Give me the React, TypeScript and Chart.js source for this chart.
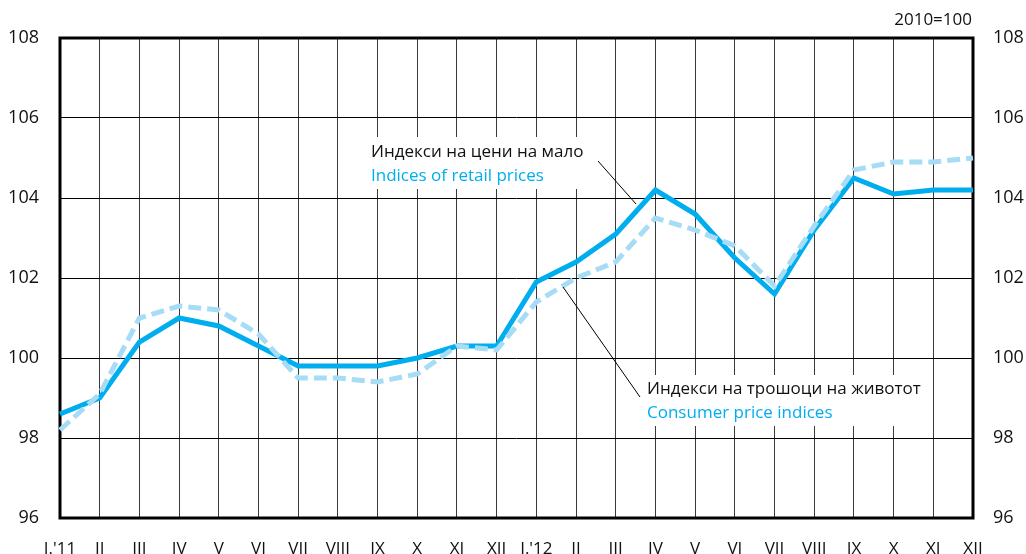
import React, { useEffect, useRef } from "react";
import { Chart, registerables } from "chart.js";

Chart.register(...registerables);

const categories = [
  "I.'11", "II", "III", "IV", "V", "VI", "VII", "VIII", "IX", "X", "XI", "XII",
  "I.'12", "II", "III", "IV", "V", "VI", "VII", "VIII", "IX", "X", "XI", "XII",
];

const retailPrices = [
  98.6, 99.0, 100.4, 101.0, 100.8, 100.3, 99.8, 99.8, 99.8, 100.0, 100.3, 100.3,
  101.9, 102.4, 103.1, 104.2, 103.6, 102.5, 101.6, 103.2, 104.5, 104.1, 104.2, 104.2,
];

const consumerPrices = [
  98.2, 99.1, 101.0, 101.3, 101.2, 100.6, 99.5, 99.5, 99.4, 99.6, 100.3, 100.2,
  101.4, 102.0, 102.4, 103.5, 103.2, 102.8, 101.8, 103.3, 104.7, 104.9, 104.9, 105.0,
];

const yMin = 96;
const yMax = 108;
const yStep = 2;

const retailLabelMk = "Индекси на цени на мало";
const retailLabelEn = "Indices of retail prices";
const cpiLabelMk = "Индекси на трошоци на животот";
const cpiLabelEn = "Consumer price indices";
const baseNote = "2010=100";

const FONT = "'Open Sans', 'Noto Sans', sans-serif";
const SOLID = "#00AEEF";
const LIGHT = "#A6DCF5";

const overlayPlugin = {
  id: "overlay",
  beforeDatasetsDraw(chart: any) {
    const { ctx, chartArea } = chart;
    ctx.save();
    ctx.strokeStyle = "#000";
    ctx.lineWidth = 3;
    ctx.strokeRect(
      chartArea.left,
      chartArea.top,
      chartArea.right - chartArea.left,
      chartArea.bottom - chartArea.top
    );
    ctx.restore();
  },
  afterDatasetsDraw(chart: any) {
    const { ctx, chartArea } = chart;
    ctx.save();
    // white boxes behind labels
    ctx.fillStyle = "#fff";
    ctx.fillRect(365, 137, 230, 52);
    ctx.fillRect(641, 375, 286, 51);

    ctx.font = `17px ${FONT}`;
    ctx.textBaseline = "middle";
    ctx.textAlign = "left";
    ctx.fillStyle = "#111";
    ctx.fillText(retailLabelMk, 371, 152);
    ctx.fillStyle = SOLID;
    ctx.fillText(retailLabelEn, 371, 176);
    ctx.fillStyle = "#111";
    ctx.fillText(cpiLabelMk, 647, 389);
    ctx.fillStyle = SOLID;
    ctx.fillText(cpiLabelEn, 647, 413);

    // leader lines
    ctx.strokeStyle = "#000";
    ctx.lineWidth = 1;
    ctx.beginPath();
    ctx.moveTo(598, 161);
    ctx.lineTo(636, 204);
    ctx.moveTo(563, 287);
    ctx.lineTo(640, 397);
    ctx.stroke();

    // base note
    ctx.fillStyle = "#111";
    ctx.textAlign = "right";
    ctx.font = `17px ${FONT}`;
    ctx.fillText(baseNote, chartArea.right - 1, 20);
    ctx.restore();
  },
};

export default function App() {
  const canvasRef = useRef<HTMLCanvasElement | null>(null);

  useEffect(() => {
    if (!canvasRef.current) return;
    const chart = new Chart(canvasRef.current, {
      type: "line",
      data: {
        labels: categories,
        datasets: [
          {
            label: retailLabelEn,
            data: retailPrices,
            borderColor: SOLID,
            borderWidth: 5,
            pointRadius: 0,
            tension: 0,
            fill: false,
            order: 2,
            yAxisID: "y",
          },
          {
            label: cpiLabelEn,
            data: consumerPrices,
            borderColor: LIGHT,
            borderWidth: 5,
            borderDash: [13, 6],
            pointRadius: 0,
            tension: 0,
            fill: false,
            order: 1,
            yAxisID: "y",
          },
        ],
      },
      options: {
        animation: false,
        responsive: false,
        maintainAspectRatio: false,
        layout: { padding: { top: 38, left: 0, right: 0, bottom: 0 } },
        plugins: {
          legend: { display: false },
          tooltip: { enabled: false },
          title: { display: false },
        },
        scales: {
          x: {
            type: "category",
            offset: false,
            grid: { color: "#3a3a3a", lineWidth: 1, drawTicks: false },
            border: { display: false },
            ticks: {
              autoSkip: false,
              maxRotation: 0,
              padding: 21,
              color: "#111",
              font: { family: FONT, size: 17 },
            },
            afterFit: (s: any) => {
              s.height = 36;
            },
          },
          y: {
            type: "linear",
            position: "left",
            min: yMin,
            max: yMax,
            grid: { color: "#000", lineWidth: 1, drawTicks: false },
            border: { display: false },
            ticks: {
              stepSize: yStep,
              padding: 21,
              color: "#111",
              font: { family: FONT, size: 18 },
            },
            afterFit: (s: any) => {
              s.width = 60;
            },
          },
          y2: {
            type: "linear",
            position: "right",
            min: yMin,
            max: yMax,
            grid: { display: false, drawTicks: false },
            border: { display: false },
            ticks: {
              stepSize: yStep,
              padding: 20,
              color: "#111",
              font: { family: FONT, size: 18 },
            },
            afterFit: (s: any) => {
              s.width = 53;
            },
          },
        },
      },
      plugins: [overlayPlugin],
    });
    return () => chart.destroy();
  }, []);

  return (
    <div style={{ position: "absolute", left: 0, top: 0, width: 1026, height: 554, background: "#fff" }}>
      <canvas ref={canvasRef} width={1026} height={554} />
    </div>
  );
}
